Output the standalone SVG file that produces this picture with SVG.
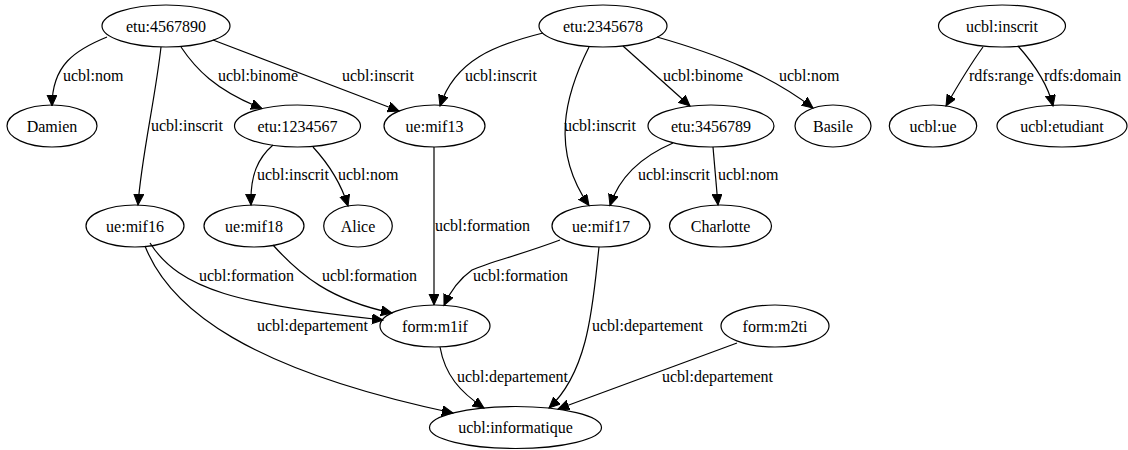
<svg xmlns="http://www.w3.org/2000/svg" width="1128" height="450" viewBox="0 0 1128 450">
<style>
.n ellipse{fill:none;stroke:#000;stroke-width:1.2}
.n text{font-family:'Liberation Serif','DejaVu Serif',serif;font-size:16px;text-anchor:middle;fill:#000}
.e path{fill:none;stroke:#000;stroke-width:1.2;marker-end:url(#arr)}
.e text{font-family:'Liberation Serif','DejaVu Serif',serif;font-size:16px;fill:#000}
</style>
<defs>
<marker id="arr" markerUnits="userSpaceOnUse" markerWidth="14" markerHeight="12" refX="11" refY="5" orient="auto">
<path d="M0,0 L11,5 L0,10 Z" fill="#000" stroke="#000" stroke-width="1"/>
</marker>
</defs>
<rect width="1128" height="450" fill="#fff"/>
<g id="edges" class="e">
<path d="M107,37 C75,50 52,65 52,106"/><text x="63" y="81">ucbl:nom</text>
<path d="M161,47 C155,100 141,160 138,205"/><text x="151" y="131">ucbl:inscrit</text>
<path d="M181,47 C195,68 215,90 262,108.5"/><text x="218" y="81">ucbl:binome</text>
<path d="M213,40 L399,111"/><text x="342" y="81">ucbl:inscrit</text>
<path d="M543,33 C495,45 455,60 440,106"/><text x="465" y="81">ucbl:inscrit</text>
<path d="M589,47 C565,95 550,150 589,205.5"/><text x="564" y="131">ucbl:inscrit</text>
<path d="M623,46 L690,106"/><text x="663" y="81">ucbl:binome</text>
<path d="M657,37 C720,55 770,75 813,108"/><text x="779" y="81">ucbl:nom</text>
<path d="M983,47 C970,65 958,85 946,106"/><text x="969" y="81">rdfs:range</text>
<path d="M1018,46 C1035,65 1048,85 1053,106"/><text x="1044" y="81">rdfs:domain</text>
<path d="M273,145 C258,158 250,175 251,205"/><text x="257" y="180">ucbl:inscrit</text>
<path d="M313,147 C325,160 340,180 348,206"/><text x="338" y="180">ucbl:nom</text>
<path d="M673,143 C645,155 620,175 610,205.5"/><text x="638" y="180">ucbl:inscrit</text>
<path d="M713,147 L718,205"/><text x="718" y="180">ucbl:nom</text>
<path d="M434,147 L434,305"/><text x="435" y="231">ucbl:formation</text>
<path d="M150,243 C180,290 240,305 383,320"/><text x="199" y="281">ucbl:formation</text>
<path d="M145,246 C170,310 250,370 453,413"/><text x="257" y="331">ucbl:departement</text>
<path d="M273,245 C300,275 330,300 392,313"/><text x="322" y="281">ucbl:formation</text>
<path d="M560,240 C520,255 490,262 472,270 C458,280 450,292 444,305.5"/><text x="473" y="281">ucbl:formation</text>
<path d="M599,247 C593,300 590,370 549,408"/><text x="592" y="331">ucbl:departement</text>
<path d="M440,347 C445,375 460,392 484,408"/><text x="457" y="382">ucbl:departement</text>
<path d="M737,343 L558,409"/><text x="662" y="382">ucbl:departement</text>
</g>
<g id="etu4567890" class="n"><ellipse cx="166" cy="26" rx="64" ry="21"/><text x="166" y="31.5">etu:4567890</text></g>
<g id="etu2345678" class="n"><ellipse cx="603" cy="26" rx="64" ry="21"/><text x="603" y="31.5">etu:2345678</text></g>
<g id="ucbl_inscrit" class="n"><ellipse cx="1002" cy="26" rx="63.5" ry="21"/><text x="1002" y="31.5">ucbl:inscrit</text></g>
<g id="Damien" class="n"><ellipse cx="52" cy="126" rx="45" ry="21"/><text x="52" y="131.5">Damien</text></g>
<g id="etu1234567" class="n"><ellipse cx="297.5" cy="126" rx="63" ry="21"/><text x="297.5" y="131.5">etu:1234567</text></g>
<g id="ue_mif13" class="n"><ellipse cx="434.5" cy="126" rx="50.5" ry="21"/><text x="434.5" y="131.5">ue:mif13</text></g>
<g id="etu3456789" class="n"><ellipse cx="711" cy="126" rx="63" ry="21"/><text x="711" y="131.5">etu:3456789</text></g>
<g id="Basile" class="n"><ellipse cx="833" cy="126" rx="38" ry="21"/><text x="833" y="131.5">Basile</text></g>
<g id="ucbl_ue" class="n"><ellipse cx="933" cy="126" rx="43.7" ry="21"/><text x="933" y="131.5">ucbl:ue</text></g>
<g id="ucbl_etudiant" class="n"><ellipse cx="1062" cy="126" rx="65" ry="21"/><text x="1062" y="131.5">ucbl:etudiant</text></g>
<g id="ue_mif16" class="n"><ellipse cx="135" cy="226" rx="49" ry="21"/><text x="135" y="231.5">ue:mif16</text></g>
<g id="ue_mif18" class="n"><ellipse cx="254" cy="226" rx="50" ry="21"/><text x="254" y="231.5">ue:mif18</text></g>
<g id="Alice" class="n"><ellipse cx="358" cy="226" rx="34.3" ry="21"/><text x="358" y="231.5">Alice</text></g>
<g id="ue_mif17" class="n"><ellipse cx="601" cy="226" rx="49" ry="21"/><text x="601" y="231.5">ue:mif17</text></g>
<g id="Charlotte" class="n"><ellipse cx="720.5" cy="226" rx="51" ry="21"/><text x="720.5" y="231.5">Charlotte</text></g>
<g id="form_m1if" class="n"><ellipse cx="435" cy="326" rx="55" ry="21"/><text x="435" y="331.5">form:m1if</text></g>
<g id="form_m2ti" class="n"><ellipse cx="775" cy="326" rx="54" ry="21"/><text x="775" y="331.5">form:m2ti</text></g>
<g id="ucbl_informatique" class="n"><ellipse cx="515.5" cy="427.5" rx="86" ry="21"/><text x="515.5" y="433">ucbl:informatique</text></g>
</svg>
